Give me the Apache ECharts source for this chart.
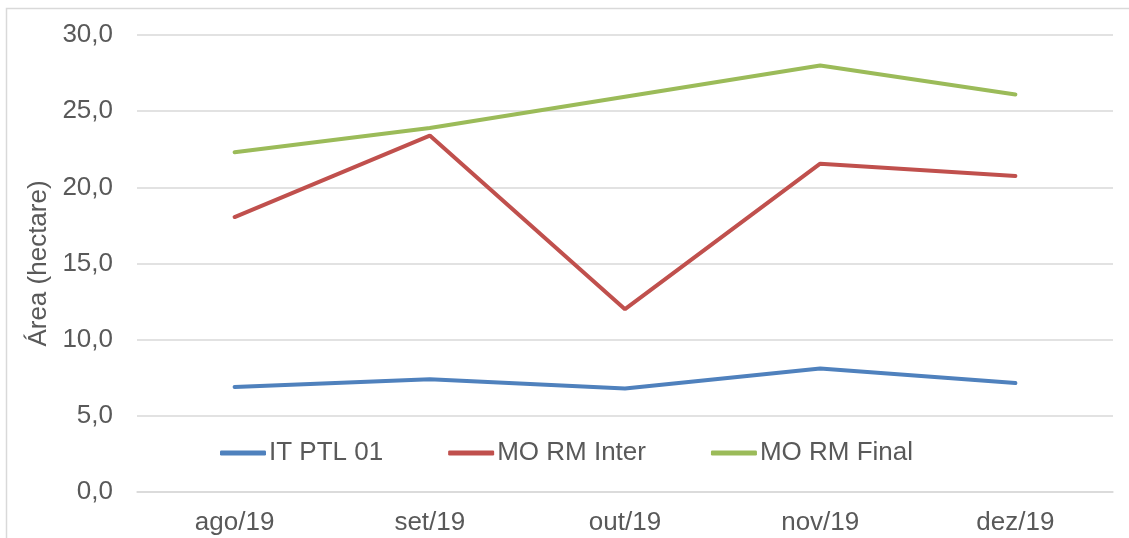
<!DOCTYPE html>
<html><head><meta charset="utf-8">
<script src="https://cdn.jsdelivr.net/npm/echarts@6/dist/echarts.min.js"></script>
<style>html,body{margin:0;padding:0;background:#fff}#c{width:1129px;height:538px}</style>
</head><body><div id="c"></div>
<script>
const categories = ['ago/19','set/19','out/19','nov/19','dez/19'];
const itPtl01 = [6.9, 7.4, 6.8, 8.1, 7.15];
const moRmInter = [18.05, 23.4, 12.0, 21.55, 20.75];
const moRmFinal = [22.3, 23.9, 25.95, 28.0, 26.1];
const seriesNames = ['IT PTL 01','MO RM Inter','MO RM Final'];
const colors = ['#4F81BD','#C0504D','#9BBB59'];

const chart = echarts.init(document.getElementById('c'), null, {renderer:'canvas'});
const font = 'Liberation Sans, Arial, sans-serif';
const mk = (name, data, color) => ({
  name, type:'line', data, symbol:'none', smooth:false,
  lineStyle:{width:4, color, cap:'round'}, itemStyle:{color}
});
chart.setOption({
  animation:false,
  graphic:[{type:'rect', shape:{x:6.5,y:8.5,width:1140,height:560},
    style:{fill:'none', stroke:'#d9d9d9', lineWidth:1.5}, silent:true, z:-1}],
  grid:{left:137, right:16, top:35, bottom:46, containLabel:false},
  legend:{
    left:215, top:435, itemGap:65, itemWidth:46, itemHeight:5,
    icon:'roundRect',
    textStyle:{fontFamily:font, fontSize:26, color:'#595959', padding:[0,0,0,-2]},
    data:seriesNames
  },
  xAxis:{
    type:'category', data:categories, boundaryGap:true,
    axisLine:{show:true, lineStyle:{color:'#d9d9d9', width:1.5}},
    axisTick:{show:false},
    axisLabel:{fontFamily:font, fontSize:26, color:'#595959', margin:18}
  },
  yAxis:{
    type:'value', min:0, max:30, interval:5,
    name:'Área (hectare)', nameLocation:'middle', nameGap:85,
    nameTextStyle:{fontFamily:font, fontSize:26, color:'#595959'},
    axisLine:{show:false}, axisTick:{show:false},
    splitLine:{lineStyle:{color:'#d9d9d9', width:1.5}},
    axisLabel:{fontFamily:font, fontSize:26, color:'#595959', margin:24,
      formatter:v=>v.toFixed(1).replace('.',',')}
  },
  series:[mk(seriesNames[0], itPtl01, colors[0]), mk(seriesNames[1], moRmInter, colors[1]), mk(seriesNames[2], moRmFinal, colors[2])]
});
</script></body></html>
